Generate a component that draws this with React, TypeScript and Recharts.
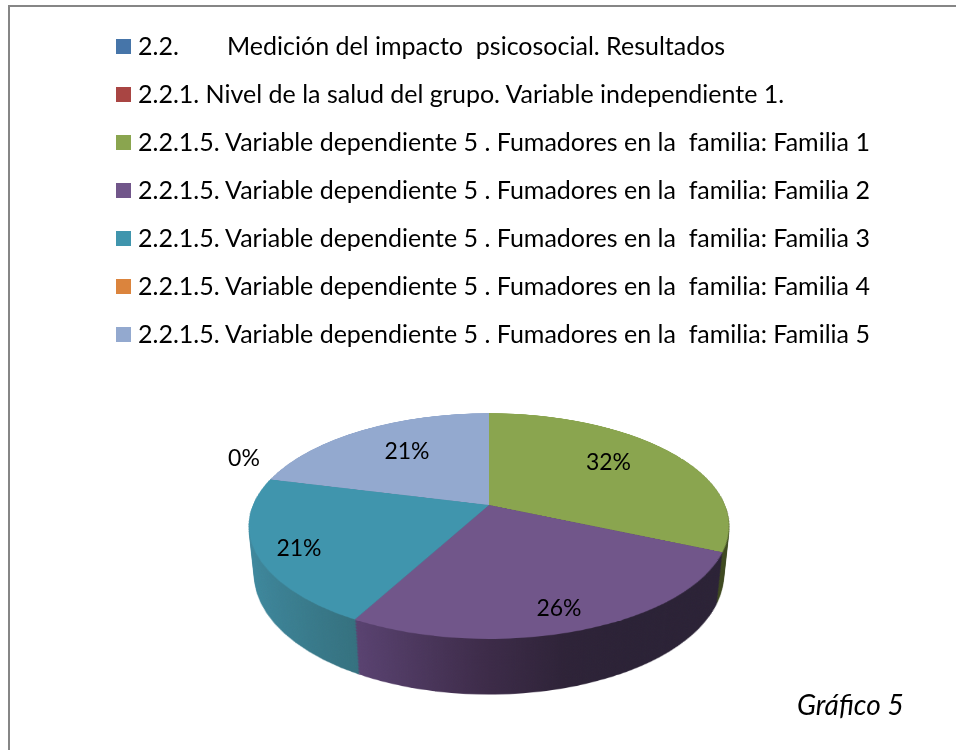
import { Legend, Pie, PieChart, Cell } from 'recharts';

const NAMES = [
  '2.2.\tMedición del impacto  psicosocial. Resultados',
  '2.2.1. Nivel de la salud del grupo. Variable independiente 1.',
  '2.2.1.5. Variable dependiente 5 . Fumadores en la  familia: Familia 1',
  '2.2.1.5. Variable dependiente 5 . Fumadores en la  familia: Familia 2',
  '2.2.1.5. Variable dependiente 5 . Fumadores en la  familia: Familia 3',
  '2.2.1.5. Variable dependiente 5 . Fumadores en la  familia: Familia 4',
  '2.2.1.5. Variable dependiente 5 . Fumadores en la  familia: Familia 5',
];
const VALUES = [0, 0, 6, 5, 4, 0, 4];
const TOP_COLORS = ['#4675a9', '#a94543', '#8aa54f', '#71568a', '#4095ad', '#db843d', '#93a9cf'];
const SIDE_COLORS = ['#2c4669', '#692a29', '#3f4a20', 'url(#sidePurple)', 'url(#sideTeal)', '#88521f', '#5b6980'];

const data = NAMES.map((name, i) => ({ name, value: VALUES[i] }));

// label offsets from the pie apex, indexed like the data
const LABEL_POS: Record<number, [number, number]> = {
  2: [119.5, -44],
  3: [70, 102],
  4: [-190, 42],
  5: [-245, -48],
  6: [-82, -55],
};

const SIZE = 600;
const CENTER = SIZE / 2;
const RADIUS = 236;
const APEX_X = 488.5;
const APEX_Y = 505;
const DEPTH = 56;
const STEP = 1.5;

const depths: number[] = [];
for (let h = DEPTH; h > 0; h -= STEP) depths.push(h);

const FONT = 'Lato, Carlito, Calibri, sans-serif';

function PieLayer({ depth, colors }: { depth: number; colors: string[] }) {
  return (
    <div
      style={{
        position: 'absolute',
        left: APEX_X - CENTER,
        top: APEX_Y - CENTER,
        width: SIZE,
        height: SIZE,
        transformOrigin: `${CENTER}px ${CENTER}px`,
        transform: `perspective(1127px) rotateX(62.5deg) translateZ(${-depth}px)`,
      }}
    >
      <PieChart width={SIZE} height={SIZE} margin={{ top: 0, right: 0, bottom: 0, left: 0 }}>
        <Pie
          data={data}
          dataKey="value"
          nameKey="name"
          cx={CENTER}
          cy={CENTER}
          outerRadius={RADIUS}
          startAngle={90}
          endAngle={-270}
          stroke="none"
          isAnimationActive={false}
        >
          {data.map((d, i) => <Cell key={d.name} fill={colors[i]} />)}
        </Pie>
      </PieChart>
    </div>
  );
}

function renderLabel({ index, percent, cx, cy }: any) {
  const pos = LABEL_POS[index];
  if (!pos) return null;
  return (
    <text
      x={cx + pos[0]}
      y={cy + pos[1]}
      textAnchor="middle"
      dominantBaseline="central"
      fontFamily={FONT}
      fontSize={23}
      fill="#000"
    >
      {`${Math.round(percent * 100)}%`}
    </text>
  );
}

function LegendList() {
  return (
    <div>
      {NAMES.map((name, i) => (
        <div key={name} style={{ display: 'flex', alignItems: 'center', height: 48 }}>
          <span style={{ width: 15, height: 15, background: TOP_COLORS[i], marginRight: 7, flex: 'none' }} />
          <span style={{ position: 'relative', top: -1, fontFamily: FONT, fontSize: 25, color: '#000', whiteSpace: 'pre', tabSize: '89px' } as any}>{name}</span>
        </div>
      ))}
    </div>
  );
}

export default function App() {
  return (
    <div style={{ position: 'fixed', left: 0, top: 0, width: 956, height: 750, background: '#fff', overflow: 'hidden' }}>
      <div style={{ position: 'absolute', left: 8, top: 5, width: 948, height: 2, background: '#868686' }} />
      <div style={{ position: 'absolute', left: 8, top: 5, width: 2, height: 745, background: '#868686' }} />
      <svg width={0} height={0} style={{ position: 'absolute' }}>
        <defs>
          <linearGradient id="sidePurple" gradientUnits="userSpaceOnUse" x1={190} y1={0} x2={420} y2={0}>
            <stop offset="0%" stopColor="#594270" />
            <stop offset="45%" stopColor="#3e2c4a" />
            <stop offset="75%" stopColor="#2e2338" />
            <stop offset="100%" stopColor="#2b2236" />
          </linearGradient>
          <linearGradient id="sideTeal" gradientUnits="userSpaceOnUse" x1={64} y1={0} x2={188} y2={0}>
            <stop offset="0%" stopColor="#3f8aa0" />
            <stop offset="100%" stopColor="#35717f" />
          </linearGradient>
        </defs>
      </svg>
      {depths.map(h => <PieLayer key={h} depth={h} colors={SIDE_COLORS} />)}
      <PieLayer depth={0} colors={TOP_COLORS} />
      <div style={{ position: 'absolute', left: APEX_X - CENTER, top: APEX_Y - CENTER }}>
        <PieChart width={SIZE} height={SIZE} margin={{ top: 0, right: 0, bottom: 0, left: 0 }} style={{ overflow: 'visible' }}>
          <Pie
            data={data}
            dataKey="value"
            nameKey="name"
            cx={CENTER}
            cy={CENTER}
            outerRadius={RADIUS}
            startAngle={90}
            endAngle={-270}
            fill="none"
            stroke="none"
            label={renderLabel}
            labelLine={false}
            isAnimationActive={false}
          />
          <Legend
            content={<LegendList />}
            wrapperStyle={{ position: 'fixed', left: 116, top: 22, width: 830, height: 340 }}
          />
        </PieChart>
      </div>
      <div
        style={{
          position: 'absolute',
          left: 797,
          top: 687,
          fontFamily: FONT,
          fontStyle: 'italic',
          fontSize: 28,
          color: '#000',
          whiteSpace: 'pre',
        }}
      >
        Gráfico 5
      </div>
    </div>
  );
}
